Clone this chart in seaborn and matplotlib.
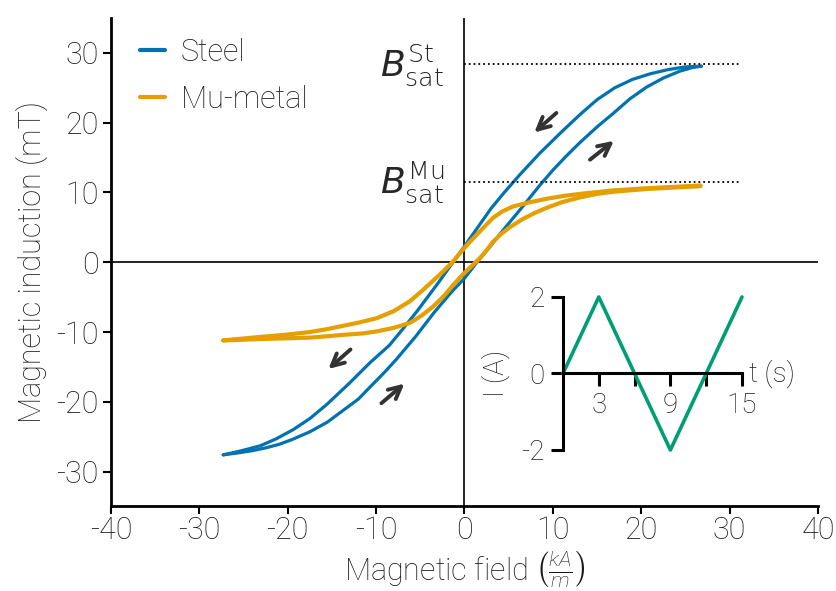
import matplotlib
matplotlib.use("Agg")
import matplotlib.pyplot as plt
import seaborn as sns
from matplotlib.lines import Line2D

# ---------------- data ----------------
steel_up_H = [-27.3, -25.5, -24.0, -22.5, -21.0, -19.5, -17.5, -15.5, -13.7, -12.0, -10.7, -9.0, -7.7,
              -5.5, -3.5, -1.5, 0.0, 1.4, 2.8, 4.5, 6.6, 8.5, 10.0, 11.5, 13.1, 15.0, 16.8, 18.7,
              20.6, 22.5, 24.4, 25.8, 26.8]
steel_up_B = [-27.6, -27.3, -27.0, -26.6, -26.1, -25.4, -24.3, -22.9, -21.2, -19.6, -17.9, -15.7, -13.9,
              -10.6, -7.3, -4.3, -2.3, 0.0, 2.1, 4.8, 8.0, 11.0, 13.2, 15.2, 17.2, 19.4, 21.3, 23.4,
              25.1, 26.4, 27.4, 27.9, 28.1]
steel_dn_H = [26.8, 25.0, 23.0, 21.0, 19.0, 17.0, 15.0, 13.1, 11.0, 8.5, 6.3, 4.5, 3.0, 1.5, 0.0,
              -1.3, -3.0, -5.3, -7.0, -8.5, -10.7, -13.0, -15.6, -17.5, -19.4, -21.3, -23.1, -25.2, -27.3]
steel_dn_B = [28.1, 28.0, 27.6, 27.0, 26.2, 25.0, 23.3, 21.2, 18.7, 15.6, 12.6, 10.0, 7.7, 5.0, 2.3,
              0.0, -3.0, -6.9, -9.6, -11.9, -14.4, -17.3, -20.4, -22.4, -24.0, -25.3, -26.3, -27.0, -27.6]

mu_up_H = [-27.3, -25.0, -23.1, -20.0, -17.5, -15.5, -13.7, -11.5, -9.9, -8.0, -6.2, -4.8, -3.5, -2.3,
           -1.3, -0.3, 0.6, 1.75, 2.5, 3.2, 4.1, 5.1, 6.6, 8.0, 9.3, 11.0, 13.1, 15.0, 16.8, 18.7,
           20.6, 23.6, 26.7]
mu_up_B = [-11.2, -11.1, -11.0, -10.9, -10.8, -10.6, -10.4, -10.2, -9.9, -9.4, -8.7, -7.6, -6.3, -4.8,
           -3.3, -1.9, -0.8, 0.6, 1.7, 2.9, 4.0, 5.0, 6.2, 7.1, 7.8, 8.6, 9.3, 9.8, 10.1, 10.3,
           10.5, 10.7, 10.9]
mu_dn_H = [26.7, 23.6, 20.6, 18.7, 16.8, 15.0, 13.1, 11.2, 9.3, 7.4, 5.5, 4.3, 3.25, 2.1, 1.2, 0.3,
           -0.5, -1.3, -2.4, -3.6, -4.9, -6.2, -8.0, -9.9, -11.8, -13.7, -15.6, -17.5, -20.3, -23.1,
           -25.2, -27.3]
mu_dn_B = [11.0, 10.8, 10.6, 10.45, 10.3, 10.05, 9.8, 9.5, 9.1, 8.6, 8.0, 7.3, 6.4, 4.9, 3.7, 2.5,
           1.3, 0.1, -1.3, -2.7, -4.2, -5.6, -7.0, -8.0, -8.6, -9.1, -9.6, -10.0, -10.4, -10.7,
           -10.95, -11.2]

B_sat_steel = 28.4
B_sat_mu = 11.5

inset_t = [0, 3, 9, 15]
inset_I = [0, 2, -2, 2]

x_ticks = [-40, -30, -20, -10, 0, 10, 20, 30, 40]
y_ticks = [-30, -20, -10, 0, 10, 20, 30]

STEEL = "#0072B2"
MU = "#E69F00"
GREEN = "#009E73"
ARROW = "#333333"
TEXT = "#1a1a1a"

# ---------------- style ----------------
sns.set_style("ticks")
plt.rcParams["font.family"] = ["Roboto", "DejaVu Sans"]
plt.rcParams["font.weight"] = "light"
plt.rcParams["axes.labelweight"] = "light"
plt.rcParams["axes.unicode_minus"] = False
plt.rcParams["mathtext.fontset"] = "custom"
plt.rcParams["mathtext.rm"] = "Roboto:light"
plt.rcParams["mathtext.it"] = "Roboto:light:italic"

FS = 22

fig = plt.figure(figsize=(8.37, 5.91), dpi=100)
ax = fig.add_axes([0.1326, 0.1430, 0.8447, 0.8265])

for H, B, c, lw in [(steel_up_H, steel_up_B, STEEL, 2.3), (steel_dn_H, steel_dn_B, STEEL, 2.3),
                    (mu_up_H, mu_up_B, MU, 3.0), (mu_dn_H, mu_dn_B, MU, 3.0)]:
    sns.lineplot(x=H, y=B, sort=False, estimator=None, color=c, lw=lw, ax=ax,
                 solid_capstyle="round", solid_joinstyle="round")

ax.axhline(0, color="black", lw=1.2, zorder=0)
ax.axvline(0, color="black", lw=1.2, zorder=0)

ax.set_xlim(-40, 40)
ax.set_ylim(-35, 35)
ax.set_xticks(x_ticks)
ax.set_yticks(y_ticks)
ax.tick_params(labelsize=FS, width=1.5, length=6, direction="out", colors="black",
               labelcolor=TEXT, pad=3)
ax.tick_params(axis="x", pad=1)
for s in ["top", "right"]:
    ax.spines[s].set_visible(False)
for s in ["left", "bottom"]:
    ax.spines[s].set_linewidth(2.0)
    ax.spines[s].set_color("black")

ax.set_ylabel("Magnetic induction (mT)", fontsize=FS, labelpad=6, color=TEXT)
ax.set_xlabel(r"Magnetic field $\left(\frac{kA}{m}\right)$", fontsize=FS, color=TEXT)
ax.xaxis.label.set_verticalalignment("bottom")
ax.xaxis.set_label_coords(0.5, -0.171)

# saturation markers
ax.plot([0, 31.2], [B_sat_steel, B_sat_steel], ls=":", color="black", lw=1.3)
ax.plot([0, 31.2], [B_sat_mu, B_sat_mu], ls=":", color="black", lw=1.3)
ax.text(-2.3, B_sat_steel - 0.1, r"$B_{\mathrm{sat}}^{\mathrm{St}}$", fontsize=26,
        ha="right", va="center", math_fontfamily="dejavusans")
ax.text(-2.3, B_sat_mu - 0.1, r"$B_{\mathrm{sat}}^{\mathrm{Mu}}$", fontsize=26,
        ha="right", va="center", math_fontfamily="dejavusans")

# arrows
arrows = [((10.4, 21.4), (7.9, 18.6)), ((14.2, 14.7), (16.9, 17.4)),
          ((-12.9, -12.5), (-15.4, -15.3)), ((-9.4, -20.2), (-6.8, -17.4))]
for tail, head in arrows:
    ax.annotate("", xy=head, xytext=tail,
                arrowprops=dict(arrowstyle="->", lw=2.8, color=ARROW, mutation_scale=22,
                                shrinkA=0, shrinkB=0))

handles = [Line2D([], [], color=STEEL, lw=3), Line2D([], [], color=MU, lw=3)]
leg = ax.legend(handles, ["Steel", "Mu-metal"], loc="upper left", frameon=False, fontsize=FS,
                handlelength=0.82, handletextpad=0.5, labelspacing=0.6, borderaxespad=0,
                bbox_to_anchor=(0.024, 0.985))
for t in leg.get_texts():
    t.set_color(TEXT)

# ---------------- inset ----------------
ins = fig.add_axes([0.6726, 0.2386, 0.2139, 0.2589])
ins.patch.set_alpha(0)
sns.lineplot(x=inset_t, y=inset_I, sort=False, estimator=None, color=GREEN, lw=2.6, ax=ins)
for l in ins.lines:
    l.set_clip_on(False)
ins.set_xlim(0, 15)
ins.set_ylim(-2, 2)
ins.spines["top"].set_visible(False)
ins.spines["right"].set_visible(False)
ins.spines["bottom"].set_position(("data", 0))
ins.spines["left"].set_position(("data", 0))
for s in ["left", "bottom"]:
    ins.spines[s].set_linewidth(2.2)
    ins.spines[s].set_color("black")
ins.set_xticks([3, 6, 9, 12, 15])
ins.set_xticklabels(["3", "", "9", "", "15"])
ins.set_yticks([-2, 0, 2])
ins.set_yticklabels(["-2", "0", "2"])
ins.tick_params(labelsize=20, width=2.2, length=9, direction="out", pad=4,
                colors="black", labelcolor=TEXT)
ins.text(15.6, 0, "t (s)", fontsize=20, ha="left", va="center", color=TEXT)
ins.set_ylabel("I (A)", fontsize=20, labelpad=8, color=TEXT)

fig.savefig("out.png", dpi=100)
